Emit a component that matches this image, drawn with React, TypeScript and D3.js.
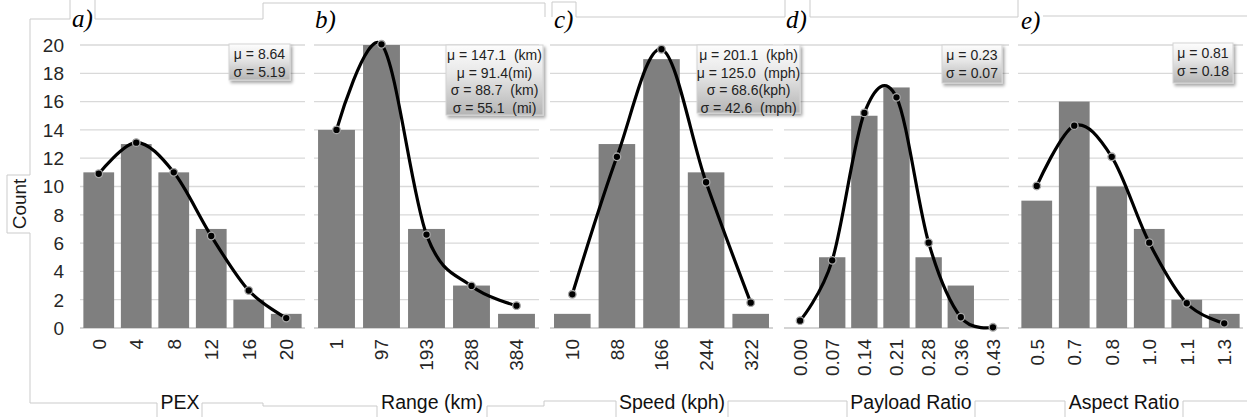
import * as d3 from "d3";

// count axis, shared by all five histograms
const yTicks = [0, 2, 4, 6, 8, 10, 12, 14, 16, 18, 20];

const pexBins = ["0", "4", "8", "12", "16", "20"];
const pexCounts = [11, 13, 11, 7, 2, 1];
const pexFit = [10.9, 13.1, 11.0, 6.5, 2.65, 0.7];
const pexStats = ["μ = 8.64", "σ = 5.19"];

const rangeBins = ["1", "97", "193", "288", "384"];
const rangeCounts = [14, 20, 7, 3, 1];
const rangeFit = [14.0, 20.05, 6.6, 2.97, 1.58];
const rangeStats = ["μ = 147.1  (km)", "μ = 91.4(mi)", "σ = 88.7  (km)", "σ = 55.1  (mi)"];

const speedBins = ["10", "88", "166", "244", "322"];
const speedCounts = [1, 13, 19, 11, 1];
const speedFit = [2.38, 12.1, 19.7, 10.3, 1.79];
const speedStats = ["μ = 201.1  (kph)", "μ = 125.0  (mph)", "σ = 68.6(kph)", "σ = 42.6  (mph)"];

const payloadBins = ["0.00", "0.07", "0.14", "0.21", "0.28", "0.36", "0.43"];
const payloadCounts = [0, 5, 15, 17, 5, 3, 0];
const payloadFit = [0.52, 4.78, 15.2, 16.3, 6.03, 0.76, 0.05];
const payloadStats = ["μ = 0.23", "σ = 0.07"];

const aspectBins = ["0.5", "0.7", "0.8", "1.0", "1.1", "1.3"];
const aspectCounts = [9, 16, 10, 7, 2, 1];
const aspectFit = [10.04, 14.3, 12.1, 6.03, 1.75, 0.33];
const aspectStats = ["μ = 0.81", "σ = 0.18"];

const width = 1247;
const height = 417;
const sans = "'Liberation Sans', Arial, sans-serif";
const serif = "'Liberation Serif', 'Times New Roman', serif";
const frameColor = "#cbcbcb";

const yScale = d3.scaleLinear().domain([0, 20]).range([328, 45]);

const panels = [
  { tag: "a)", bins: pexBins, counts: pexCounts, fit: pexFit, stats: pexStats, title: "PEX",
    x0: 80, x1: 305, tagX: 72, tagY: 27, titleX: 180, box: [229, 44, 61, 36] },
  { tag: "b)", bins: rangeBins, counts: rangeCounts, fit: rangeFit, stats: rangeStats, title: "Range (km)",
    x0: 314, x1: 539, tagX: 315, tagY: 28, titleX: 432, box: [446, 45, 97, 70] },
  { tag: "c)", bins: speedBins, counts: speedCounts, fit: speedFit, stats: speedStats, title: "Speed (kph)",
    x0: 550, x1: 773, tagX: 554, tagY: 28, titleX: 672, box: [697, 45, 103, 68] },
  { tag: "d)", bins: payloadBins, counts: payloadCounts, fit: payloadFit, stats: payloadStats, title: "Payload Ratio",
    x0: 784, x1: 1009, tagX: 786, tagY: 28, titleX: 911, box: [942, 45, 60, 38] },
  { tag: "e)", bins: aspectBins, counts: aspectCounts, fit: aspectFit, stats: aspectStats, title: "Aspect Ratio",
    x0: 1018, x1: 1243, tagX: 1021, tagY: 29, titleX: 1124, box: [1173, 43, 60, 40] },
];

// bits of the pasted chart frames that show around the panels
const framePaths = [
  "M30,175 V19 H70 V0",
  "M95,0 V19 H263 V3 H545 V17",
  "M552,17 V2 H576 V17 H785 V0",
  "M810,0 V17 H1018 V0",
  "M1043,16 H1247",
  "M30,175 H7 V233 H30 V403 H157 V417",
  "M202,417 V403 H263 V406 H377 V417",
  "M487,417 V406 H544 V401 H616 V417",
  "M728,417 V401 H847 V417",
  "M975,417 V401 H1065 V417",
  "M1183,417 V401 H1247",
];

function Histogram({ p }) {
  const x = d3.scaleBand().domain(p.bins).range([p.x0, p.x1]).paddingInner(0.18).paddingOuter(0.09);
  const cx = (b) => x(b) + x.bandwidth() / 2;
  const line = d3
    .line()
    .x((_, i) => cx(p.bins[i]))
    .y((d) => yScale(d))
    .curve(d3.curveCardinal);

  return (
    <g>
      {yTicks.map((t) => (
        <line key={t} x1={p.x0} x2={p.x1} y1={yScale(t)} y2={yScale(t)}
          stroke={t === 0 ? "#c6c6c6" : "#d9d9d9"} strokeWidth={1.3} />
      ))}
      {p.bins.map((b, i) =>
        p.counts[i] > 0 ? (
          <rect key={b} x={x(b)} y={yScale(p.counts[i])} width={x.bandwidth()}
            height={yScale(0) - yScale(p.counts[i])} fill="#7f7f7f" />
        ) : null
      )}
      <path d={line(p.fit)} fill="none" stroke="#000" strokeWidth={3.2} />
      {p.fit.map((v, i) => (
        <circle key={i} cx={cx(p.bins[i])} cy={yScale(v)} r={3.8} fill="#000" stroke="#a8a8a8" strokeWidth={1.3} />
      ))}
      {p.bins.map((b) => (
        <text key={b} transform={`translate(${cx(b)},339) rotate(-90)`} textAnchor="end" dy="0.36em"
          fontSize={19} fontFamily={sans} fill="#262626">
          {b}
        </text>
      ))}
    </g>
  );
}

export default function App() {
  return (
    <svg width={width} height={height} style={{ position: "absolute", left: 0, top: 0, background: "#fff" }}>
      <defs>
        <linearGradient id="statFill" x1="0" y1="0" x2="0" y2="1">
          <stop offset="0" stopColor="#fdfdfd" />
          <stop offset="0.4" stopColor="#e8e8e8" />
          <stop offset="1" stopColor="#b4b4b4" />
        </linearGradient>
        <filter id="shadow" x="-20%" y="-20%" width="150%" height="160%">
          <feDropShadow dx="2" dy="2.5" stdDeviation="1.5" floodColor="#000" floodOpacity="0.35" />
        </filter>
      </defs>

      {framePaths.map((d, i) => (
        <path key={i} d={d} fill="none" stroke={frameColor} strokeWidth={1} />
      ))}

      {yTicks.map((t) => (
        <text key={t} x={64} y={yScale(t)} dy="0.36em" textAnchor="end" fontSize={19} fontFamily={sans} fill="#262626">
          {t}
        </text>
      ))}
      <text transform="translate(19,204) rotate(-90)" textAnchor="middle" dy="0.36em" fontSize={19}
        fontFamily={sans} fill="#1a1a1a">
        Count
      </text>

      {panels.map((p) => (
        <Histogram key={p.tag} p={p} />
      ))}

      {panels.map((p) => (
        <g key={p.tag}>
          <text x={p.tagX} y={p.tagY} fontSize={25} fontStyle="italic" fontFamily={serif} fill="#000">
            {p.tag}
          </text>
          <text x={p.titleX} y={409} textAnchor="middle" fontSize={19.5} fontFamily={sans} fill="#111">
            {p.title}
          </text>
          <rect x={p.box[0]} y={p.box[1]} width={p.box[2]} height={p.box[3]} fill="url(#statFill)"
            stroke="#d4d4d4" strokeWidth={1} filter="url(#shadow)" />
          {p.stats.map((s, i) => (
            <text key={i} x={p.box[0] + p.box[2] / 2} y={p.box[1] + 10 + i * 17.5} dy="0.36em" textAnchor="middle"
              fontSize={14} fontFamily={sans} fill="#222" style={{ whiteSpace: "pre" }}>
              {s}
            </text>
          ))}
        </g>
      ))}
    </svg>
  );
}
